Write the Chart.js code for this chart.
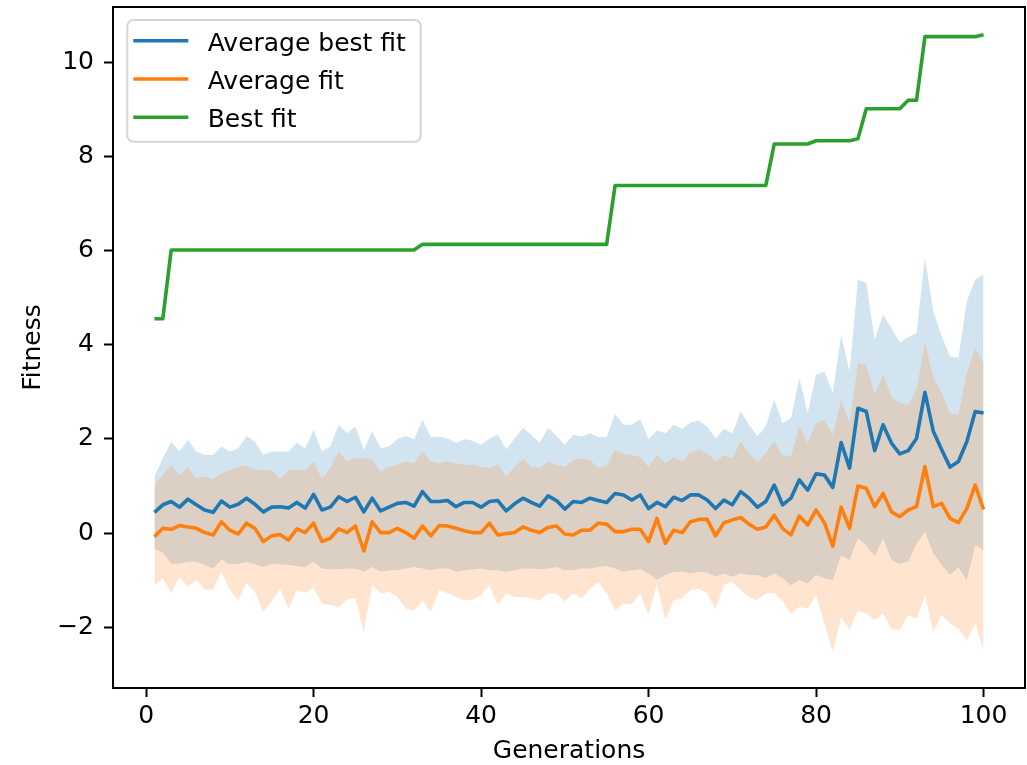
<!DOCTYPE html>
<html>
<head>
<meta charset="utf-8">
<script src="https://cdn.jsdelivr.net/npm/chart.js@4.4.1/dist/chart.umd.min.js"></script>
<style>
  body { margin: 0; background: #fff; }
  #contenedor { width: 1027px; height: 765px; }
</style>
</head>
<body>
<div id="contenedor"><canvas id="grafico" width="1027" height="765"></canvas></div>
<script>
// generaciones (eje x)
const generaciones = [1, 2, 3, 4, 5, 6, 7, 8, 9, 10, 11, 12, 13, 14, 15, 16, 17, 18, 19, 20,
    21, 22, 23, 24, 25, 26, 27, 28, 29, 30, 31, 32, 33, 34, 35, 36, 37, 38, 39, 40,
    41, 42, 43, 44, 45, 46, 47, 48, 49, 50, 51, 52, 53, 54, 55, 56, 57, 58, 59, 60,
    61, 62, 63, 64, 65, 66, 67, 68, 69, 70, 71, 72, 73, 74, 75, 76, 77, 78, 79, 80,
    81, 82, 83, 84, 85, 86, 87, 88, 89, 90, 91, 92, 93, 94, 95, 96, 97, 98, 99, 100]

const promedioMejorFit = [0.44, 0.60, 0.67, 0.55, 0.72, 0.60, 0.49, 0.44, 0.68, 0.55,
    0.61, 0.74, 0.61, 0.45, 0.55, 0.56, 0.53, 0.65, 0.53, 0.82,
    0.49, 0.55, 0.77, 0.67, 0.76, 0.45, 0.74, 0.47, 0.55, 0.63,
    0.65, 0.57, 0.88, 0.67, 0.67, 0.69, 0.56, 0.65, 0.65, 0.55,
    0.67, 0.69, 0.47, 0.62, 0.74, 0.65, 0.57, 0.79, 0.69, 0.51,
    0.67, 0.65, 0.74, 0.69, 0.65, 0.84, 0.81, 0.70, 0.81, 0.52,
    0.65, 0.56, 0.76, 0.69, 0.81, 0.81, 0.70, 0.52, 0.70, 0.60,
    0.88, 0.74, 0.55, 0.67, 1.02, 0.60, 0.74, 1.13, 0.91, 1.26,
    1.23, 0.97, 1.92, 1.38, 2.65, 2.58, 1.75, 2.30, 1.91, 1.68,
    1.75, 2.01, 2.99, 2.16, 1.77, 1.40, 1.52, 1.94, 2.58, 2.55]

const promedioFit = [-0.08, 0.10, 0.08, 0.16, 0.13, 0.10, 0.01, -0.04, 0.24, 0.06,
    -0.02, 0.21, 0.10, -0.18, -0.06, -0.03, -0.15, 0.09, 0.01, 0.21,
    -0.18, -0.11, 0.09, 0.01, 0.15, -0.38, 0.24, 0.01, 0.01, 0.10,
    0.01, -0.11, 0.15, -0.06, 0.16, 0.15, 0.10, 0.05, 0.01, 0.01,
    0.21, -0.04, -0.01, 0.01, 0.13, 0.06, 0.01, 0.12, 0.15, -0.02,
    -0.04, 0.06, 0.06, 0.21, 0.19, 0.03, 0.03, 0.08, 0.08, -0.18,
    0.31, -0.22, 0.06, 0.01, 0.24, 0.29, 0.29, -0.06, 0.22, 0.28,
    0.33, 0.19, 0.08, 0.13, 0.38, 0.10, -0.04, 0.36, 0.17, 0.49,
    0.22, -0.28, 0.55, 0.10, 1.00, 0.95, 0.56, 0.84, 0.45, 0.35,
    0.49, 0.56, 1.41, 0.56, 0.63, 0.31, 0.22, 0.52, 1.02, 0.50]

const mejorFit = [4.55, 4.55, 6.01, 6.01, 6.01, 6.01, 6.01, 6.01, 6.01, 6.01,
    6.01, 6.01, 6.01, 6.01, 6.01, 6.01, 6.01, 6.01, 6.01, 6.01,
    6.01, 6.01, 6.01, 6.01, 6.01, 6.01, 6.01, 6.01, 6.01, 6.01,
    6.01, 6.01, 6.13, 6.13, 6.13, 6.13, 6.13, 6.13, 6.13, 6.13,
    6.13, 6.13, 6.13, 6.13, 6.13, 6.13, 6.13, 6.13, 6.13, 6.13,
    6.13, 6.13, 6.13, 6.13, 6.13, 7.38, 7.38, 7.38, 7.38, 7.38,
    7.38, 7.38, 7.38, 7.38, 7.38, 7.38, 7.38, 7.38, 7.38, 7.38,
    7.38, 7.38, 7.38, 7.38, 8.26, 8.26, 8.26, 8.26, 8.26, 8.33,
    8.33, 8.33, 8.33, 8.33, 8.37, 9.01, 9.01, 9.01, 9.01, 9.01,
    9.19, 9.19, 10.54, 10.54, 10.54, 10.54, 10.54, 10.54, 10.54, 10.58]

// bandas (limite superior / inferior)
const azulSup = [1.20, 1.59, 1.94, 1.73, 1.98, 1.73, 1.66, 1.66, 1.84, 1.73,
    1.80, 2.06, 1.94, 1.66, 1.73, 1.73, 1.73, 1.92, 1.80, 2.19,
    1.73, 1.84, 2.30, 2.12, 2.26, 1.77, 2.16, 1.80, 1.84, 1.99,
    2.06, 1.99, 2.40, 2.04, 2.05, 2.01, 1.92, 1.99, 1.96, 1.87,
    2.01, 2.09, 1.78, 2.01, 2.23, 2.09, 1.92, 2.23, 2.06, 1.87,
    2.09, 2.05, 2.12, 2.04, 2.04, 2.53, 2.30, 2.30, 2.42, 1.99,
    2.18, 2.12, 2.30, 2.21, 2.35, 2.39, 2.26, 2.01, 2.21, 2.12,
    2.58, 2.30, 2.05, 2.26, 2.83, 2.33, 2.44, 3.29, 2.55, 3.36,
    3.43, 2.97, 4.21, 3.43, 5.38, 5.31, 4.11, 4.64, 4.35, 4.04,
    4.16, 4.25, 5.84, 4.71, 4.18, 3.75, 3.72, 4.92, 5.38, 5.49]

const azulInf = [-0.33, -0.42, -0.65, -0.65, -0.61, -0.61, -0.68, -0.75, -0.56, -0.66,
    -0.65, -0.61, -0.66, -0.72, -0.66, -0.66, -0.68, -0.70, -0.72, -0.61,
    -0.75, -0.77, -0.77, -0.75, -0.75, -0.82, -0.72, -0.82, -0.79, -0.79,
    -0.75, -0.72, -0.75, -0.79, -0.75, -0.75, -0.82, -0.79, -0.77, -0.75,
    -0.79, -0.79, -0.82, -0.79, -0.75, -0.75, -0.77, -0.75, -0.72, -0.79,
    -0.79, -0.75, -0.75, -0.72, -0.70, -0.75, -0.82, -0.79, -0.77, -0.86,
    -0.99, -0.89, -0.82, -0.82, -0.86, -0.82, -0.84, -0.93, -0.86, -0.93,
    -0.86, -0.89, -0.89, -0.96, -0.86, -0.96, -1.11, -1.00, -1.07, -0.89,
    -0.96, -1.00, -0.47, -0.57, -0.11, -0.26, -0.50, -0.11, -0.57, -0.65,
    -0.61, -0.22, 0.03, -0.43, -0.68, -0.89, -0.72, -1.00, -0.26, -0.36]

const naranjaSup = [1.02, 1.23, 1.45, 1.23, 1.41, 1.16, 1.20, 1.14, 1.27, 1.34,
    1.41, 1.43, 1.34, 1.34, 1.33, 1.16, 1.33, 1.34, 1.33, 1.52,
    1.14, 1.38, 1.73, 1.52, 1.59, 1.59, 1.55, 1.30, 1.41, 1.45,
    1.52, 1.48, 1.73, 1.52, 1.48, 1.52, 1.48, 1.45, 1.45, 1.41,
    1.38, 1.45, 1.20, 1.41, 1.57, 1.41, 1.38, 1.52, 1.45, 1.41,
    1.55, 1.59, 1.55, 1.38, 1.43, 1.77, 1.68, 1.66, 1.61, 1.40,
    1.66, 1.48, 1.61, 1.52, 1.71, 1.77, 1.70, 1.52, 1.66, 1.59,
    1.94, 1.70, 1.50, 1.70, 1.94, 1.66, 1.62, 2.26, 1.92, 2.33,
    2.40, 2.09, 2.83, 2.33, 3.61, 3.57, 2.94, 3.36, 2.90, 2.76,
    2.72, 3.04, 4.07, 3.29, 2.97, 2.55, 2.51, 3.40, 3.93, 3.61]

const naranjaInf = [-1.11, -0.96, -1.27, -0.93, -1.14, -1.00, -1.20, -1.20, -0.82, -1.21,
    -1.43, -1.06, -1.25, -1.67, -1.46, -1.18, -1.60, -1.21, -1.27, -1.16,
    -1.50, -1.53, -1.57, -1.41, -1.38, -2.10, -1.11, -1.28, -1.25, -1.36,
    -1.60, -1.65, -1.43, -1.67, -1.21, -1.28, -1.36, -1.43, -1.41, -1.32,
    -1.11, -1.53, -1.28, -1.36, -1.36, -1.39, -1.43, -1.28, -1.28, -1.46,
    -1.28, -1.39, -1.18, -1.04, -1.28, -1.64, -1.50, -1.50, -1.28, -1.74,
    -1.09, -1.84, -1.43, -1.39, -1.21, -1.18, -1.28, -1.62, -1.11, -1.04,
    -1.21, -1.36, -1.43, -1.28, -1.28, -1.43, -1.71, -1.57, -1.60, -1.32,
    -1.92, -2.53, -1.78, -2.06, -1.64, -1.71, -1.85, -1.71, -2.03, -2.06,
    -1.74, -1.82, -1.32, -2.10, -1.74, -1.92, -2.03, -2.28, -1.92, -2.49]

const ticksX = [0, 20, 40, 60, 80, 100]
const ticksY = [-2, 0, 2, 4, 6, 8, 10]

const series = [
    { nombre: 'Average best fit', color: '#1f77b4' },
    { nombre: 'Average fit', color: '#ff7f0e' },
    { nombre: 'Best fit', color: '#2ca02c' }
]

const puntos = (valores) => generaciones.map((g, i) => ({ x: g, y: valores[i] }))

const linea = (nombre, color, valores) => ({
    label: nombre,
    data: puntos(valores),
    borderColor: color,
    backgroundColor: color,
    borderWidth: 3.6,
    borderJoinStyle: 'round',
    pointRadius: 0,
    tension: 0,
    fill: false
})

const banda = (valores, relleno, color) => ({
    data: puntos(valores),
    borderWidth: 0,
    borderColor: 'rgba(0,0,0,0)',
    backgroundColor: color,
    pointRadius: 0,
    tension: 0,
    fill: relleno
})

// marco completo tipo matplotlib
const marcoPlugin = {
    id: 'marco',
    afterDraw(chart) {
        const { ctx, chartArea: a } = chart
        ctx.save()
        ctx.strokeStyle = '#000'
        ctx.lineWidth = 2
        ctx.strokeRect(a.left, a.top, a.right - a.left, a.bottom - a.top)
        ctx.restore()
    }
}

// leyenda dentro del area del grafico
const leyendaPlugin = {
    id: 'leyenda',
    afterDraw(chart) {
        const { ctx, chartArea: a } = chart
        const x0 = a.left + 14.3
        const y0 = a.top + 13
        ctx.save()
        ctx.beginPath()
        ctx.roundRect(x0, y0, 293.4, 121.7, 6)
        ctx.fillStyle = 'rgba(255,255,255,0.8)'
        ctx.fill()
        ctx.strokeStyle = 'rgba(204,204,204,0.8)'
        ctx.lineWidth = 2
        ctx.stroke()
        ctx.font = "25px 'DejaVu Sans', sans-serif"
        ctx.textBaseline = 'alphabetic'
        series.forEach((s, k) => {
            const y = y0 + 20.7 + k * 38.3
            ctx.beginPath()
            ctx.moveTo(x0 + 6, y)
            ctx.lineTo(x0 + 61, y)
            ctx.strokeStyle = s.color
            ctx.lineWidth = 3.6
            ctx.stroke()
            ctx.fillStyle = '#000'
            ctx.fillText(s.nombre, x0 + 80.4, y + 9.8)
        })
        ctx.restore()
    }
}

const fuente = { family: "'DejaVu Sans', sans-serif", size: 25 }

// quitar el relleno extra que Chart.js deja para las etiquetas de los extremos
const sinRelleno = (scale) => {
    scale.paddingTop = 0
    scale.paddingBottom = 0
    scale.paddingLeft = 0
    scale.paddingRight = 0
}

const ctx = document.getElementById('grafico')

const config = {
    type: 'line',
    data: {
        datasets: [
            linea(series[2].nombre, series[2].color, mejorFit),
            linea(series[1].nombre, series[1].color, promedioFit),
            linea(series[0].nombre, series[0].color, promedioMejorFit),
            banda(naranjaSup, '+1', 'rgba(255,127,14,0.2)'),
            banda(naranjaInf, false, 'rgba(0,0,0,0)'),
            banda(azulSup, '+1', 'rgba(31,119,180,0.2)'),
            banda(azulInf, false, 'rgba(0,0,0,0)')
        ]
    },
    options: {
        responsive: false,
        animation: false,
        events: [],
        layout: { padding: { top: 7, right: 2, left: 0, bottom: 0 } },
        plugins: {
            legend: { display: false },
            tooltip: { enabled: false }
        },
        scales: {
            x: {
                type: 'linear',
                min: -3.95,
                max: 104.95,
                afterFit: (scale) => { scale.height = 77; sinRelleno(scale) },
                afterBuildTicks: (scale) => { scale.ticks = ticksX.map(v => ({ value: v })) },
                grid: { drawOnChartArea: false, drawTicks: true, tickLength: 9, tickWidth: 2, tickColor: '#000' },
                border: { display: true, color: '#000', width: 2 },
                ticks: { font: fuente, color: '#000', padding: 4, maxRotation: 0 },
                title: {
                    display: true,
                    text: 'Generations',
                    font: { ...fuente, lineHeight: 1.1 },
                    color: '#000',
                    padding: { top: 0, bottom: 0 }
                }
            },
            y: {
                type: 'linear',
                min: -3.29,
                max: 11.17,
                afterFit: (scale) => { scale.width = 113; sinRelleno(scale) },
                afterBuildTicks: (scale) => { scale.ticks = ticksY.map(v => ({ value: v })) },
                grid: { drawOnChartArea: false, drawTicks: true, tickLength: 9, tickWidth: 2, tickColor: '#000' },
                border: { display: true, color: '#000', width: 2 },
                ticks: {
                    font: fuente,
                    color: '#000',
                    padding: 10,
                    callback: (v) => v < 0 ? '\u2212' + Math.abs(v) : String(v)
                },
                title: {
                    display: true,
                    text: 'Fitness',
                    font: { ...fuente, lineHeight: 1.1 },
                    color: '#000',
                    padding: { top: 20, bottom: 0 }
                }
            }
        }
    },
    plugins: [marcoPlugin, leyendaPlugin]
}

const miGrafico = new Chart(ctx, config)
</script>
</body>
</html>
